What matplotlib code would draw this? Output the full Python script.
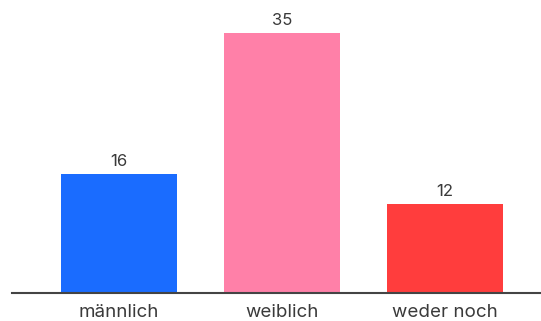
import matplotlib
matplotlib.use("Agg")
import matplotlib.pyplot as plt

categories = ["männlich", "weiblich", "weder noch"]
values = [16, 35, 12]
colors = ["#1a6cff", "#ff80a8", "#ff3d3d"]

plt.rcParams['font.family'] = ['Inter', 'DejaVu Sans']

fig = plt.figure(figsize=(5.41, 3.21), dpi=100)
W, H = 541, 321
left, right = 12, 541
base, top = 293, 10
ax = fig.add_axes([left / W, (H - base) / H, (right - left) / W, (base - top) / H])

x = list(range(len(categories)))
bars = ax.bar(x, values, width=0.71, color=colors)
ax.set_xlim(-0.656, 2.589)
ax.set_ylim(0, 38.1)
for xi, v in zip(x, values):
    ax.annotate(str(v), (xi, v), xytext=(0, 3.5), textcoords="offset points",
                ha="center", va="bottom", fontsize=12, color="#3a3a3a")

ax.set_xticks(x)
ax.set_xticklabels(categories, fontsize=13.5, color="#3a3a3a")
ax.tick_params(axis="x", length=0, pad=8)
ax.set_yticks([])
for s in ["top", "right", "left"]:
    ax.spines[s].set_visible(False)
ax.spines["bottom"].set_color("#444444")
ax.spines["bottom"].set_linewidth(1.5)

fig.savefig("out.png", dpi=100)
